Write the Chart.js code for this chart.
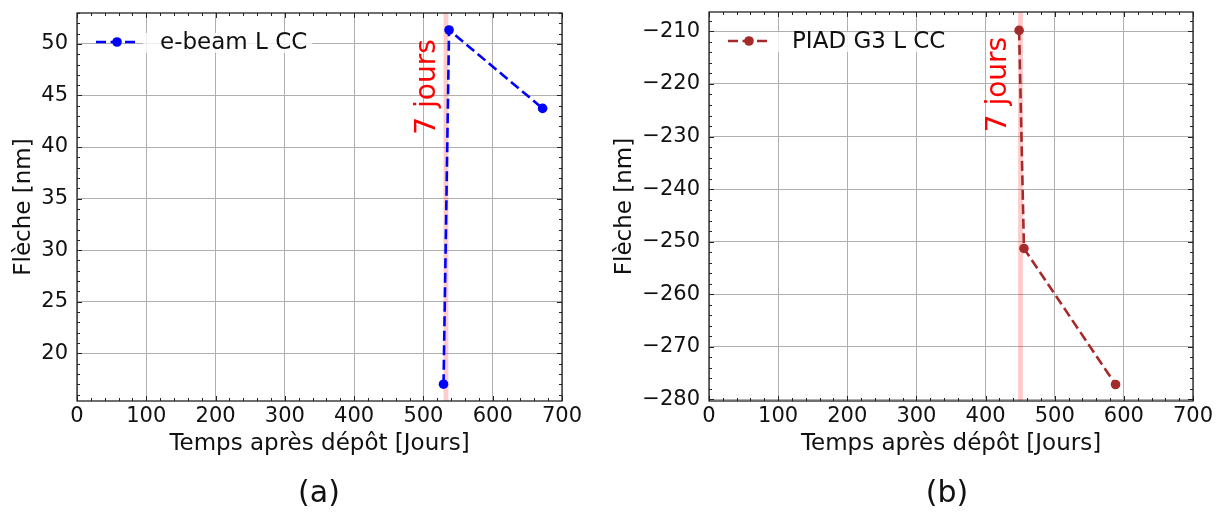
<!DOCTYPE html>
<html>
<head>
<meta charset="utf-8">
<script src="https://cdn.jsdelivr.net/npm/chart.js@4.4.1/dist/chart.umd.min.js"></script>
<style>
  body { margin: 0; background: #fff; width: 1223px; height: 513px; position: relative; overflow: hidden; font-family: "DejaVu Sans", sans-serif; }
  .panel { position: absolute; top: 0; height: 513px; }
  .sub { position: absolute; top: 474px; font-size: 30px; line-height: 36px; color: #111; transform: translateX(-50%); }
</style>
</head>
<body>
<div class="panel" style="left:0;width:611px"><canvas id="chartA" width="611" height="513"></canvas></div>
<div class="panel" style="left:611px;width:612px"><canvas id="chartB" width="612" height="513"></canvas></div>
<div class="sub" style="left:319px">(a)</div>
<div class="sub" style="left:947px">(b)</div>
<script>
const FONT = "DejaVu Sans";

// x axis (both panels)
const xTicks = [0, 100, 200, 300, 400, 500, 600, 700];

// (a) e-beam L CC
const ebeamDays = [529, 537, 672];
const ebeamFleche = [17.0, 51.35, 43.75];
const ebeamYTicks = [20, 25, 30, 35, 40, 45, 50];
const ebeamWindow = [529, 536];

// (b) PIAD G3 L CC
const piadDays = [448.5, 455.5, 588];
const piadFleche = [-209.8, -251.3, -277.2];
const piadYTicks = [-280, -270, -260, -250, -240, -230, -220, -210];
const piadWindow = [447, 454];

function fmt(v) {
  return v < 0 ? "\u2212" + Math.abs(v) : String(v);
}

// matplotlib-like frame, inward ticks, span, rotated note and legend
const mplLook = {
  id: "mplLook",
  beforeDatasetsDraw(chart, args, o) {
    const { ctx, chartArea: a, scales: { x } } = chart;
    const x1 = x.getPixelForValue(o.span[0]);
    const x2 = x.getPixelForValue(o.span[1]);
    ctx.save();
    ctx.fillStyle = "rgba(255,0,0,0.2)";
    ctx.fillRect(x1, a.top, x2 - x1, a.bottom - a.top);
    ctx.restore();
  },
  afterDatasetsDraw(chart, args, o) {
    const { ctx, chartArea: a, scales: { x, y } } = chart;
    ctx.save();
    ctx.strokeStyle = "#222";
    ctx.lineWidth = 1;
    ctx.beginPath();
    // x ticks (major + minor), top and bottom
    for (let v = x.min; v <= x.max + 1e-9; v += o.xMinor) {
      const px = Math.round(x.getPixelForValue(v)) + 0.5;
      const len = Math.abs(v % 100) < 1e-9 ? 5 : 3;
      ctx.moveTo(px, a.bottom); ctx.lineTo(px, a.bottom - len);
      ctx.moveTo(px, a.top); ctx.lineTo(px, a.top + len);
    }
    const start = Math.ceil(y.min / o.yMinor) * o.yMinor;
    for (let v = start; v <= y.max + 1e-9; v += o.yMinor) {
      const py = Math.round(y.getPixelForValue(v)) + 0.5;
      const len = Math.abs(v % o.yMajor) < 1e-9 ? 5 : 3;
      ctx.moveTo(a.left, py); ctx.lineTo(a.left + len, py);
      ctx.moveTo(a.right, py); ctx.lineTo(a.right - len, py);
    }
    ctx.stroke();
    ctx.lineWidth = 1.3;
    ctx.strokeRect(a.left, a.top, a.right - a.left, a.bottom - a.top);

    // rotated note
    ctx.fillStyle = "#ff0000";
    ctx.font = "28px '" + FONT + "'";
    ctx.translate(x.getPixelForValue(o.noteX), y.getPixelForValue(o.noteY));
    ctx.rotate(-Math.PI / 2);
    ctx.textAlign = "left";
    ctx.textBaseline = "alphabetic";
    ctx.fillText(o.note, 0, 0);
    ctx.restore();

    // legend
    const ds = chart.data.datasets[0];
    const ly = a.top + 29;
    ctx.save();
    ctx.font = "23px '" + FONT + "'";
    const tw = ctx.measureText(ds.label).width;
    ctx.fillStyle = "rgba(255,255,255,0.8)";
    ctx.fillRect(a.left + 66, ly - 9, 22 + tw, 20);
    ctx.strokeStyle = ds.borderColor;
    ctx.lineWidth = ds.borderWidth;
    ctx.setLineDash(ds.borderDash);
    ctx.beginPath();
    ctx.moveTo(a.left + 19, ly); ctx.lineTo(a.left + 60, ly);
    ctx.stroke();
    ctx.setLineDash([]);
    ctx.fillStyle = ds.borderColor;
    ctx.beginPath();
    ctx.arc(a.left + 40, ly, ds.pointRadius, 0, Math.PI * 2);
    ctx.fill();
    ctx.fillStyle = "#111";
    ctx.textBaseline = "middle";
    ctx.fillText(ds.label, a.left + 83, ly + 1);
    ctx.restore();
  }
};

function buildChart(id, p) {
  return new Chart(document.getElementById(id), {
    type: "line",
    data: {
      datasets: [{
        label: p.label,
        data: p.days.map((d, i) => ({ x: d, y: p.values[i] })),
        borderColor: p.color,
        backgroundColor: p.color,
        borderWidth: 2.6,
        borderDash: [10, 4.5],
        pointRadius: 4.8,
        pointHoverRadius: 4.8,
        pointBorderWidth: 0,
        fill: false,
        tension: 0
      }]
    },
    options: {
      responsive: false,
      animation: false,
      devicePixelRatio: 1,
      layout: { padding: { left: 0, right: p.padRight, top: p.padTop, bottom: 0 } },
      plugins: {
        legend: { display: false },
        tooltip: { enabled: false },
        mplLook: { span: p.span, note: "7 jours", noteX: p.noteX, noteY: p.noteY, xMinor: 20, yMinor: p.yMinor, yMajor: p.yMajor }
      },
      scales: {
        x: {
          type: "linear",
          min: 0,
          max: 700,
          afterBuildTicks: s => { s.ticks = xTicks.map(v => ({ value: v })); },
          afterFit: s => { s.height = 112; s.paddingLeft = 0; s.paddingRight = 0; },
          grid: { color: "#b0b0b0", lineWidth: 1, drawTicks: false },
          border: { display: false },
          ticks: { padding: 3, color: "#111", font: { family: FONT, size: 21 }, maxRotation: 0, autoSkip: false, callback: fmt },
          title: { display: true, text: "Temps après dépôt [Jours]", color: "#111", font: { family: FONT, size: 23 }, padding: { top: 0, bottom: 55 } }
        },
        y: {
          type: "linear",
          min: p.yMin,
          max: p.yMax,
          afterBuildTicks: s => { s.ticks = p.yTicks.map(v => ({ value: v })); },
          afterFit: s => { s.width = p.yWidth; s.paddingTop = 0; s.paddingBottom = 0; },
          grid: { color: "#b0b0b0", lineWidth: 1, drawTicks: false },
          border: { display: false },
          ticks: { padding: 9, color: "#111", font: { family: FONT, size: 21 }, autoSkip: false, callback: fmt },
          title: { display: true, text: "Flèche [nm]", color: "#111", font: { family: FONT, size: 23 }, padding: { top: p.yTitlePad, bottom: 0 } }
        }
      }
    },
    plugins: [mplLook]
  });
}

buildChart("chartA", {
  label: "e-beam L CC",
  days: ebeamDays,
  values: ebeamFleche,
  color: "#0000ff",
  yTicks: ebeamYTicks,
  yMin: 15.37,
  yMax: 53.0,
  yMinor: 1,
  yMajor: 5,
  span: ebeamWindow,
  noteX: 516,
  noteY: 41.2,
  yWidth: 77,
  yTitlePad: 10,
  padRight: 49,
  padTop: 13
});

buildChart("chartB", {
  label: "PIAD G3 L CC",
  days: piadDays,
  values: piadFleche,
  color: "#a52a2a",
  yTicks: piadYTicks,
  yMin: -280.34,
  yMax: -206.3,
  yMinor: 2,
  yMajor: 10,
  span: piadWindow,
  noteX: 430,
  noteY: -229.2,
  yWidth: 98,
  yTitlePad: 0,
  padRight: 30,
  padTop: 12
});
</script>
</body>
</html>
